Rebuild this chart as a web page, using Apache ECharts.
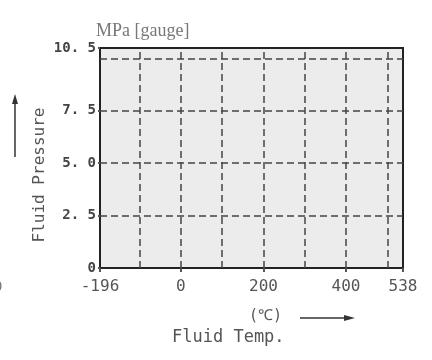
<!DOCTYPE html>
<html><head><meta charset="utf-8">
<script src="https://cdn.jsdelivr.net/npm/echarts@6/dist/echarts.min.js"></script>
<style>html,body{margin:0;padding:0;background:#fff}#c{width:432px;height:360px}</style>
</head><body><div id="c"></div>
<script>
const xMin = -196, xMax = 538;
const yMin = 0, yMax = 10.5;
const xTickValues = [-196, 0, 200, 400, 538];
const yTickValues = [0, 2.5, 5, 7.5, 10.5];
const yTickLabels = ['0', '2. 5', '5. 0', '7. 5', '10. 5'];
const xGridValues = [-100, 0, 100, 200, 300, 400, 500];
const yGridValues = [2.5, 5, 7.5, 10];
const yUnit = 'MPa [gauge]';
const yName = 'Fluid Pressure';
const xUnit = '(\u2103)';
const xName = 'Fluid Temp.';

const chart = echarts.init(document.getElementById('c'), null, {renderer: 'canvas'});
const mono = 'DejaVu Sans Mono';
const gridLine = {type: [7, 4], color: '#444', width: 1.5};
const markData = [];
xGridValues.forEach(v => markData.push({xAxis: v}));
yGridValues.forEach(v => markData.push({yAxis: v}));

chart.setOption({
  animation: false,
  grid: {left: 100, right: 29, top: 48, bottom: 92, show: true,
    backgroundColor: '#ececec', borderColor: '#222', borderWidth: 2},
  xAxis: {type: 'value', min: xMin, max: xMax,
    axisLine: {show: true, onZero: false, lineStyle: {color: '#222', width: 2}},
    axisTick: {show: true, customValues: xTickValues, length: 4, lineStyle: {color: '#555', width: 2}},
    axisLabel: {customValues: xTickValues, color: '#555', fontFamily: mono, fontSize: 16, margin: 11,
      formatter: v => String(v)},
    splitLine: {show: false}},
  yAxis: {type: 'value', min: yMin, max: yMax,
    axisLine: {show: true, onZero: false, lineStyle: {color: '#222', width: 2}},
    axisTick: {show: true, customValues: yTickValues, length: 2, lineStyle: {color: '#555', width: 2}},
    axisLabel: {customValues: yTickValues, color: '#444', fontFamily: mono, fontSize: 14, fontWeight: 'bold', margin: 4,
      formatter: v => yTickLabels[yTickValues.indexOf(v)]},
    splitLine: {show: false}},
  series: [{type: 'scatter', data: [], silent: true,
    markLine: {silent: true, symbol: 'none', label: {show: false}, lineStyle: gridLine, data: markData}}],
  graphic: [
    {type: 'text', left: 96, top: 22, style: {text: yUnit, font: '18px "Liberation Serif"', fill: '#777'}},
    {type: 'text', x: 40, y: 175, rotation: Math.PI / 2, style: {text: yName, font: '16px "DejaVu Sans Mono"', fill: '#555', align: 'center', verticalAlign: 'middle'}},
    {type: 'line', shape: {x1: 15, y1: 157, x2: 15, y2: 102}, style: {stroke: '#333', lineWidth: 1.5}},
    {type: 'polygon', shape: {points: [[12, 104], [18, 104], [15, 94]]}, style: {fill: '#333'}},
    {type: 'text', left: 249, top: 309, style: {text: xUnit, font: '15px "DejaVu Sans Mono"', fill: '#555'}},
    {type: 'line', shape: {x1: 300, y1: 318, x2: 346, y2: 318}, style: {stroke: '#333', lineWidth: 1.5}},
    {type: 'polygon', shape: {points: [[344, 315], [344, 321], [355, 318]]}, style: {fill: '#333'}},
    {type: 'text', left: 172, top: 329, style: {text: xName, font: '17px "DejaVu Sans Mono"', fill: '#555'}},
    {type: 'text', left: -6, top: 280, style: {text: '0', font: '14px "DejaVu Sans Mono"', fill: '#777'}}
  ]
});
</script></body></html>
